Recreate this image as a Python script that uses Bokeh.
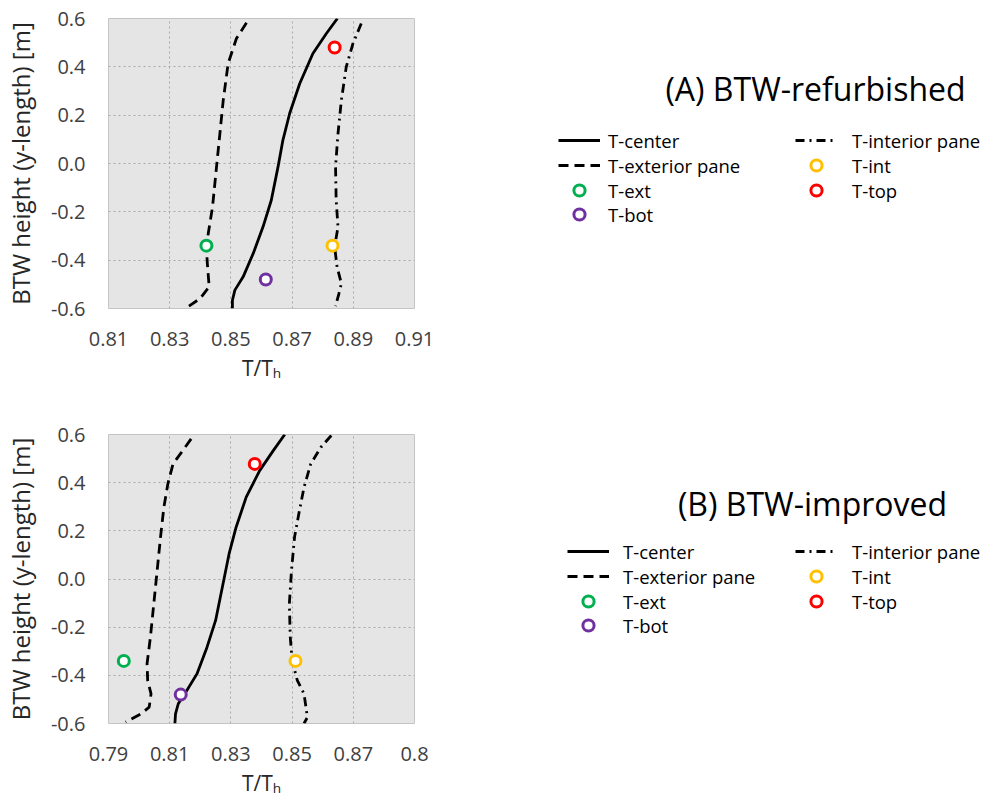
from bokeh.plotting import figure
from bokeh.layouts import column, row
from bokeh.models import Legend, LegendItem, Label, FixedTicker
from bokeh.embed import file_html
from bokeh.resources import INLINE

# ---------------- data (A) BTW-refurbished ----------------
a_center_y = [0.6, 0.538, 0.455, 0.331, 0.207, 0.097, -0.014, -0.152, -0.262, -0.372, -0.469, -0.524, -0.566, -0.6]
a_center_x = [0.8848, 0.8812, 0.8768, 0.8725, 0.8692, 0.8670, 0.8654, 0.8632, 0.8605, 0.8573, 0.8540, 0.8513, 0.8505, 0.8505]
a_ext_pane_y = [0.582, 0.517, 0.414, 0.262, 0.124, -0.014, -0.179, -0.29, -0.345, -0.414, -0.51, -0.559, -0.597]
a_ext_pane_x = [0.8551, 0.8518, 0.8491, 0.8475, 0.8464, 0.8453, 0.8440, 0.8426, 0.8420, 0.8423, 0.8429, 0.8399, 0.8355]
a_int_pane_y = [0.579, 0.497, 0.4, 0.262, 0.124, -0.014, -0.152, -0.262, -0.345, -0.428, -0.497, -0.538, -0.59]
a_int_pane_x = [0.8926, 0.8899, 0.8877, 0.8861, 0.8850, 0.8842, 0.8844, 0.8850, 0.8839, 0.8847, 0.8861, 0.8853, 0.8842]
a_pts = {"T-ext": (0.8420, -0.34), "T-bot": (0.8614, -0.48), "T-int": (0.8832, -0.34), "T-top": (0.8839, 0.48)}

# ---------------- data (B) BTW-improved ----------------
b_center_y = [0.6, 0.534, 0.45, 0.34, 0.215, 0.104, -0.034, -0.172, -0.283, -0.394, -0.463, -0.518, -0.56, -0.6]
b_center_x = [0.8476, 0.8439, 0.8394, 0.8350, 0.8317, 0.8294, 0.8272, 0.8250, 0.8222, 0.8189, 0.8156, 0.8128, 0.8119, 0.8117]
b_ext_pane_y = [0.582, 0.527, 0.478, 0.395, 0.298, 0.174, 0.035, -0.103, -0.241, -0.352, -0.421, -0.477, -0.532, -0.56, -0.594]
b_ext_pane_x = [0.8170, 0.8139, 0.8111, 0.8094, 0.8081, 0.8070, 0.8059, 0.8048, 0.8037, 0.8026, 0.8028, 0.8039, 0.8033, 0.8006, 0.7956]
b_int_pane_y = [0.596, 0.547, 0.478, 0.381, 0.271, 0.174, 0.035, -0.103, -0.241, -0.338, -0.421, -0.477, -0.574, -0.6]
b_int_pane_x = [0.8628, 0.8594, 0.8561, 0.8539, 0.8522, 0.8508, 0.8498, 0.8491, 0.8494, 0.8500, 0.8517, 0.8539, 0.8550, 0.8539]
b_pts = {"T-ext": (0.7950, -0.34), "T-bot": (0.8136, -0.48), "T-int": (0.8511, -0.34), "T-top": (0.8378, 0.478)}

a_xticks = [0.81, 0.83, 0.85, 0.87, 0.89, 0.91]
a_xlabels = ["0.81", "0.83", "0.85", "0.87", "0.89", "0.91"]
b_xticks = [0.79, 0.81, 0.83, 0.85, 0.87, 0.89]
b_xlabels = ["0.79", "0.81", "0.83", "0.85", "0.87", "0.8"]
yticks = [-0.6, -0.4, -0.2, 0.0, 0.2, 0.4, 0.6]
ylabels = ["-0.6", "-0.4", "-0.2", "0.0", "0.2", "0.4", "0.6"]

legend_col1 = ["T-center", "T-exterior pane", "T-ext", "T-bot"]
legend_col2 = ["T-interior pane", "T-int", "T-top"]

marker_colors = {"T-ext": "#00B050", "T-bot": "#7030A0", "T-int": "#FFC000", "T-top": "#FF0000"}

FONT = "Open Sans"
CENTER = dict(line_color="black", line_width=2.8)
EXT = dict(line_color="black", line_width=2.8, line_dash="10 6")
INT = dict(line_color="black", line_width=2.8, line_dash="9 5 2 5")
MAIN_W = 444
SIDE_W = 540


def make_main(cx, cy, ex, ey, ix, iy, pts, xticks, xlabels, frame_h, top_b, bot_b):
    p = figure(frame_width=306, frame_height=frame_h, min_border_left=108,
               min_border_right=MAIN_W - 108 - 306,
               min_border_top=top_b, min_border_bottom=bot_b,
               x_range=(xticks[0], xticks[-1]), y_range=(-0.6, 0.6),
               output_backend="svg", toolbar_location=None)
    p.background_fill_color = "#E5E5E5"
    p.border_fill_color = "white"
    p.outline_line_color = "#C4C4C4"
    p.outline_line_width = 1

    for ax in (p.xaxis[0], p.yaxis[0]):
        ax.axis_line_color = None
        ax.major_tick_line_color = None
        ax.minor_tick_line_color = None
        ax.major_label_text_font = FONT
        ax.major_label_text_font_size = "20px"
        ax.major_label_text_color = "#404040"
        ax.major_label_standoff = 17
        ax.axis_label_text_font = FONT
        ax.axis_label_text_font_style = "normal"
        ax.axis_label_text_color = "#262626"
    p.xaxis.ticker = FixedTicker(ticks=xticks)
    p.xaxis.major_label_overrides = {t: l for t, l in zip(xticks, xlabels)}
    p.yaxis.ticker = FixedTicker(ticks=yticks)
    p.yaxis.major_label_overrides = {t: l for t, l in zip(yticks, ylabels)}
    p.yaxis.axis_label = "BTW height (y-length) [m]"
    p.yaxis.axis_label_text_font_size = "24px"
    p.yaxis.axis_label_standoff = 11
    p.xaxis.axis_label = "T/T\u2095"
    p.xaxis.axis_label_text_font_size = "21px"
    p.xaxis.axis_label_standoff = 5

    for g in (p.xgrid[0], p.ygrid[0]):
        g.grid_line_color = "#A8A8A8"
        g.grid_line_dash = "2 3"
        g.grid_line_width = 1

    p.line(cx, cy, **CENTER)
    p.line(ex, ey, **EXT)
    p.line(ix, iy, **INT)
    for name, (xv, yv) in pts.items():
        p.scatter([xv], [yv], marker="circle", size=11, line_width=3,
                  line_color=marker_colors[name], fill_color="white")
    return p


def make_side(height, frame_top, frame_bottom, cx, cy, ex, ey, ix, iy, pts,
              title, title_xy, col1_x, col2_x, row_ys, standoff1, standoff2):
    # side panel; its frame is aligned with the main frame, ranges are page pixels
    s = figure(width=SIDE_W, height=height, x_range=(MAIN_W, MAIN_W + SIDE_W),
               y_range=(frame_bottom, frame_top),
               min_border=0, x_axis_location=None, y_axis_location=None,
               output_backend="svg", toolbar_location=None)
    s.outline_line_color = None
    s.grid.visible = False
    s.background_fill_color = "white"
    s.border_fill_color = "white"

    # hidden proxies of the series, used only for the legend samples
    rend = {
        "T-center": s.line(cx, cy, visible=False, **CENTER),
        "T-exterior pane": s.line(ex, ey, visible=False, **EXT),
        "T-interior pane": s.line(ix, iy, visible=False, **INT),
    }
    for name, (xv, yv) in pts.items():
        rend[name] = s.scatter([xv], [yv], marker="circle", size=11, line_width=3, visible=False,
                               line_color=marker_colors[name], fill_color="white")

    common = dict(background_fill_alpha=0, border_line_color=None, padding=0, margin=0,
                  spacing=0, glyph_width=42, glyph_height=28, label_height=28,
                  inactive_fill_alpha=0,
                  label_text_font=FONT, label_text_font_size="18.5px", label_text_color="black")
    for names, x0, so in ((legend_col1, col1_x, standoff1), (legend_col2, col2_x, standoff2)):
        for name, ry in zip(names, row_ys):
            leg = Legend(items=[LegendItem(label=name, renderers=[rend[name]])],
                         location=(x0 - MAIN_W, frame_bottom - (ry + 14)),
                         label_standoff=so, **common)
            s.add_layout(leg, "center")

    s.add_layout(Label(x=title_xy[0], y=title_xy[1], text=title,
                       text_font=FONT, text_font_size="32px", text_align="center",
                       text_baseline="middle", text_color="black"))
    return s


pa = make_main(a_center_x, a_center_y, a_ext_pane_x, a_ext_pane_y,
               a_int_pane_x, a_int_pane_y, a_pts, a_xticks, a_xlabels, 290, 18, 104)
sa = make_side(412, 18, 308, a_center_x, a_center_y, a_ext_pane_x, a_ext_pane_y,
               a_int_pane_x, a_int_pane_y, a_pts,
               "(A) BTW-refurbished", (815, 88), 558, 795, [140, 165, 190, 214], 8, 15)

pb = make_main(b_center_x, b_center_y, b_ext_pane_x, b_ext_pane_y,
               b_int_pane_x, b_int_pane_y, b_pts, b_xticks, b_xlabels, 289, 22, 74)
sb = make_side(385, 434, 723, b_center_x, b_center_y, b_ext_pane_x, b_ext_pane_y,
               b_int_pane_x, b_int_pane_y, b_pts,
               "(B) BTW-improved", (812, 503), 567, 795, [553, 578, 603, 627], 14, 15)

layout = column(row(pa, sa, spacing=0), row(pb, sb, spacing=0), spacing=0)
open("out.html", "w").write(file_html(layout, INLINE))
